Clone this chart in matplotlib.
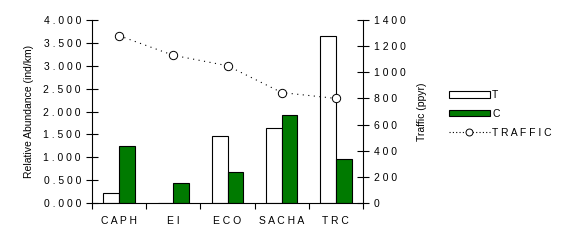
import matplotlib
matplotlib.use("Agg")
import matplotlib.pyplot as plt
import numpy as np
from matplotlib.patches import Patch
from matplotlib.lines import Line2D

categories = ["CAPH", "EI", "ECO", "SACHA", "TRC"]
T_values = [0.22, 0.0, 1.46, 1.64, 3.65]
C_values = [1.25, 0.44, 0.68, 1.92, 0.955]
traffic = [1280, 1130, 1050, 845, 800]
left_ticks = [0, 0.5, 1.0, 1.5, 2.0, 2.5, 3.0, 3.5, 4.0]
right_ticks = [0, 200, 400, 600, 800, 1000, 1200, 1400]

def spaced(s):
    return " ".join(list(s))

plt.rcParams['font.family'] = ['Liberation Sans', 'DejaVu Sans']
fs = 7.5

fig = plt.figure(figsize=(5.67, 2.4), dpi=100)
ax = fig.add_axes([92/567, 1-203/240, (363-92)/567, (203-20)/240])
x = np.arange(len(categories))
w = 0.29
ax.bar(x - w/2, T_values, w, color='white', edgecolor='black', linewidth=0.8, zorder=2)
ax.bar(x + w/2, C_values, w, color='#007a00', edgecolor='black', linewidth=0.8, zorder=2)
ax.set_xlim(-0.5, len(categories) - 0.5)
ax.set_ylim(0, 4.0)
ax.set_yticks(left_ticks)
ax.set_yticklabels([spaced(f"{v:.3f}") for v in left_ticks], fontsize=fs)
ax.set_xticks(np.arange(len(categories) + 1) - 0.5)
ax.set_xticklabels([])
ax.set_xticks(x, minor=True)
ax.set_xticklabels([spaced(c) for c in categories], minor=True, fontsize=fs)
ax.tick_params(axis='x', which='minor', length=0, pad=9)
ax.tick_params(axis='x', which='major', direction='out', length=4, width=0.8)
ax.tick_params(axis='y', direction='inout', length=8, width=0.8, pad=4)
ax.spines['top'].set_visible(False)
ax.spines['right'].set_visible(False)
for s in ['left', 'bottom']:
    ax.spines[s].set_linewidth(0.8)
ax.set_ylabel("Relative Abundance (ind/km)", fontsize=fs, labelpad=7)

ax2 = ax.twinx()
ax2.plot(x, traffic, linestyle=(0, (1, 4)), color='black', linewidth=0.8,
         marker='o', markersize=6, markerfacecolor='white', markeredgecolor='black',
         markeredgewidth=0.7, zorder=3)
ax2.set_ylim(0, 1400)
ax2.set_yticks(right_ticks)
ax2.set_yticklabels([spaced(str(v)) for v in right_ticks], fontsize=fs)
ax2.tick_params(axis='y', direction='inout', length=8, width=0.8, pad=4)
ax2.spines['top'].set_visible(False)
ax2.spines['left'].set_visible(False)
ax2.spines['bottom'].set_visible(False)
ax2.spines['right'].set_linewidth(0.8)
ax2.set_ylabel("Traffic (ppyr)", fontsize=fs, labelpad=8)

handles = [Patch(facecolor='white', edgecolor='black', linewidth=0.8),
           Patch(facecolor='#007a00', edgecolor='black', linewidth=0.8),
           Line2D([0], [0], linestyle=(0, (1, 2)), color='black', linewidth=0.8,
                  marker='o', markersize=5, markerfacecolor='white', markeredgecolor='black',
                  markeredgewidth=0.7)]
fig.legend(handles, ["T", "C", spaced("TRAFFIC")], loc='upper left',
           bbox_to_anchor=(449/567, 1-90/240), frameon=False, fontsize=fs,
           handlelength=3.9, handleheight=0.6, handletextpad=0.25, labelspacing=0.85,
           borderpad=0, borderaxespad=0)

fig.savefig("out.png", dpi=100)
